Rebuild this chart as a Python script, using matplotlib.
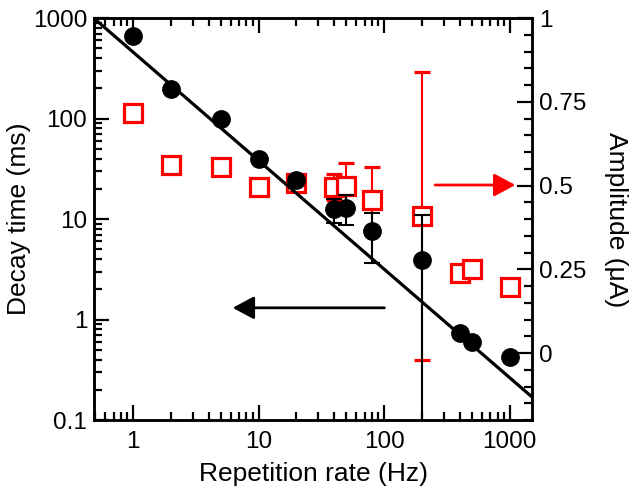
import numpy as np
import matplotlib
matplotlib.use("Agg")
import matplotlib.pyplot as plt
from matplotlib.ticker import LogLocator, MultipleLocator, NullFormatter, FixedLocator, FixedFormatter

plt.rcParams['font.family'] = ['Liberation Sans', 'DejaVu Sans']

# Data
rate = [1, 2, 5, 10, 20, 40, 50, 80, 200, 400, 500, 1000]
decay = [660, 196, 100, 39.5, 24.4, 12.6, 13.0, 7.6, 3.9, 0.73, 0.60, 0.43]
decay_err = [0, 0, 0, 0, 0, 3.4, 4.3, 3.9, 7.0, 0, 0, 0]
amp = [0.716, 0.561, 0.555, 0.496, 0.508, 0.496, 0.499, 0.457, 0.41, 0.24, 0.25, 0.198]
amp_err = [0, 0, 0, 0, 0, 0.04, 0.07, 0.1, 0.43, 0, 0, 0]
fit_A = 460.0
fit_b = 1.08

fig = plt.figure(figsize=(6.32, 4.92), dpi=100)
ax = fig.add_axes([0.149, 0.146, 0.693, 0.817])
ax2 = ax.twinx()

# Red amplitude (right axis), drawn beneath
ax2.errorbar(rate, amp, yerr=amp_err, fmt='s', mfc='white', mec='red', ms=12.5, mew=2.3,
             ecolor='red', elinewidth=1.5, capsize=6, capthick=1.5, zorder=2)

# Fit line
xf = np.logspace(np.log10(0.4), np.log10(2000), 200)
ax.plot(xf, fit_A * xf ** (-fit_b), color='black', lw=2.3, zorder=3)
ax.errorbar(rate, decay, yerr=decay_err, fmt='o', color='black', ms=12.5,
            ecolor='black', elinewidth=1.5, capsize=6, capthick=1.5, zorder=4)

ax.set_zorder(ax2.get_zorder() + 1)
ax.patch.set_visible(False)

ax.set_xscale('log')
ax.set_yscale('log')
ax.set_xlim(0.49, 1510)
ax.set_ylim(0.1, 1000)
ax2.set_ylim(-0.2, 1.0)

ax.set_xlabel('Repetition rate (Hz)', fontsize=19, labelpad=6)
ax.set_ylabel('Decay time (ms)', fontsize=19, labelpad=1)
ax2.set_ylabel('Amplitude (\u03bcA)', fontsize=19, rotation=270, labelpad=30)

ax.xaxis.set_major_locator(FixedLocator([1, 10, 100, 1000]))
ax.xaxis.set_major_formatter(FixedFormatter(['1', '10', '100', '1000']))
ax.xaxis.set_minor_locator(LogLocator(base=10, subs=np.arange(2, 10), numticks=20))
ax.xaxis.set_minor_formatter(NullFormatter())
ax.yaxis.set_major_locator(FixedLocator([0.1, 1, 10, 100, 1000]))
ax.yaxis.set_major_formatter(FixedFormatter(['0.1', '1', '10', '100', '1000']))
ax.yaxis.set_minor_locator(LogLocator(base=10, subs=np.arange(2, 10), numticks=20))
ax.yaxis.set_minor_formatter(NullFormatter())

ax2.yaxis.set_major_locator(FixedLocator([0, 0.25, 0.5, 0.75, 1.0]))
ax2.yaxis.set_major_formatter(FixedFormatter(['0', '0.25', '0.5', '0.75', '1']))
ax2.yaxis.set_minor_locator(MultipleLocator(0.05))

ax.tick_params(axis='x', which='both', direction='in', top=True, bottom=True, labelsize=17.5, pad=8)
ax.tick_params(axis='y', which='both', direction='in', left=True, right=False, labelsize=17.5, pad=5)
ax.tick_params(which='major', length=11, width=1.6)
ax.tick_params(which='minor', length=5.5, width=1.6)
ax2.tick_params(axis='y', which='both', direction='in', labelsize=17.5, pad=5)
ax2.tick_params(which='major', length=11, width=1.6)
ax2.tick_params(which='minor', length=5.5, width=1.6)

for a in (ax, ax2):
    for s in a.spines.values():
        s.set_linewidth(1.8)

# Arrows
ax.annotate('', xy=(0.968, 0.585), xytext=(0.772, 0.585), xycoords='axes fraction',
            arrowprops=dict(arrowstyle='-|>,head_length=0.65,head_width=0.35',
                            color='red', lw=2, mutation_scale=20))
ax.annotate('', xy=(0.31, 0.2795), xytext=(0.669, 0.2795), xycoords='axes fraction',
            arrowprops=dict(arrowstyle='-|>,head_length=0.65,head_width=0.35',
                            color='black', lw=2, mutation_scale=20))

fig.savefig('out.png', dpi=100)
